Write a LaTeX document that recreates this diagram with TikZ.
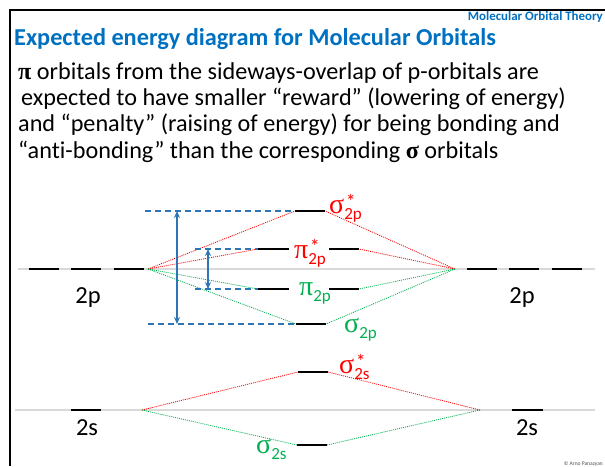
\documentclass[tikz,border=0pt]{standalone}
\usepackage{fontspec}
\setmainfont{Carlito}[Ligatures=NoCommon]
\newfontfamily\greekfont{Liberation Serif}
\usetikzlibrary{arrows.meta}
\definecolor{titleblue}{RGB}{0,112,192}
\definecolor{gapblue}{RGB}{46,117,182}
\definecolor{bondgreen}{RGB}{0,176,80}
\definecolor{antired}{RGB}{255,0,0}
% orbital symbol: letter, star, subscript
\newcommand\orb[3]{{\greekfont\fontsize{28}{30}\selectfont #1}\rlap{\hspace{1.5pt}\raisebox{4.5pt}{\fontsize{20}{20}\selectfont #2}}\raisebox{-6pt}{\fontsize{17}{17}\selectfont #3}}
\tikzset{
	orbline/.style = {line width=1.8pt, black},
	refline/.style = {line width=1.2pt, black!15},
	antiline/.style = {antired, line width=0.8pt, dash pattern=on 1pt off 1pt},
	bondline/.style = {bondgreen, line width=0.8pt, dash pattern=on 1pt off 1pt},
	gapline/.style = {gapblue, line width=1.2pt, dash pattern=on 6pt off 4pt},
	gaparrow/.style = {gapblue, line width=1.4pt, {Stealth[length=7pt,width=6pt]}-{Stealth[length=7pt,width=6pt]}},
	bodytext/.style = {anchor=base west, inner sep=0pt, font=\fontsize{24.2}{29}\selectfont},
	orblabel/.style = {inner sep=0pt, font=\fontsize{24.5}{29}\selectfont},
	molabel/.style = {anchor=base west, inner sep=0pt}
}
\begin{document}
\begin{tikzpicture}[x=1pt,y=-1pt]
	\useasboundingbox (0,0) rectangle (605,466);
	\def\yp{269}                                % 2p atomic level
	\def\ys{410}                                % 2s atomic level

	% frame and headings
	\draw[line width=2pt] (605,10) -- (10,10) -- (10,466);
	\node[anchor=base east, inner sep=0pt, text=titleblue, font=\fontsize{12.9}{15}\selectfont\bfseries] (topic) at (603,20) {Molecular Orbital Theory};
	\node[anchor=base west, inner sep=0pt, text=titleblue, font=\fontsize{24.3}{29}\selectfont\bfseries] (title) at (14,45) {Expected energy diagram for Molecular Orbitals};
	\node[bodytext] (line1) at (18,79) {{\greekfont\bfseries π} orbitals from the sideways-overlap of p-orbitals are};
	\node[bodytext] (line2) at (21,105) {expected to have smaller “reward” (lowering of energy)};
	\node[bodytext] (line3) at (18,131.5) {and “penalty” (raising of energy) for being bonding and};
	\node[bodytext] (line4) at (18,158) {“anti-bonding” than the corresponding {\greekfont\bfseries σ} orbitals};

	% reference lines through the atomic levels
	\draw[refline] (18,\yp) -- (595,\yp);
	\draw[refline] (15,\ys) -- (595,\ys);

	% atomic 2p and 2s levels
	\foreach \x in {29,71,114}{
		\draw[orbline] (\x,\yp) -- ++(30,0);
	}
	\foreach \x in {467,509,552}{
		\draw[orbline] (\x,\yp) -- ++(30,0);
	}
	\draw[orbline] (71,\ys) -- (101,\ys);
	\draw[orbline] (512,\ys) -- (543,\ys);
	\node[orblabel] (p2L) at (88,298) {2p};
	\node[orblabel] (p2R) at (522,298) {2p};
	\node[orblabel] (s2L) at (87,428) {2s};
	\node[orblabel] (s2R) at (527,428) {2s};

	\coordinate (Lp) at (148,\yp);
	\coordinate (Rp) at (455,\yp);
	\coordinate (Ls) at (142,\ys);
	\coordinate (Rs) at (480,\ys);

	% molecular levels
	\coordinate (sgpsL) at (295,211);  \coordinate (sgpsR) at (325,211);
	\coordinate (pipsL) at (258,249);  \coordinate (pipsR) at (359,249);
	\coordinate (pipL)  at (258,289);  \coordinate (pipR)  at (359,289);
	\coordinate (sgpL)  at (296,324);  \coordinate (sgpR)  at (326,324);
	\coordinate (sgssL) at (298,372);  \coordinate (sgssR) at (328,372);
	\coordinate (sgsL)  at (297,445);  \coordinate (sgsR)  at (327,445);
	\draw[orbline] (sgpsL) -- (sgpsR);
	\draw[orbline] (pipsL) -- ++(31,0);
	\draw[orbline] (pipsR) -- ++(-30,0);
	\draw[orbline] (pipL) -- ++(31,0);
	\draw[orbline] (pipR) -- ++(-30,0);
	\draw[orbline] (sgpL) -- (sgpR);
	\draw[orbline] (sgssL) -- (sgssR);
	\draw[orbline] (sgsL) -- (sgsR);

	\node[molabel, text=antired]   (sgpsT) at (329,213) {\orb{σ}{*}{2p}};
	\node[molabel, text=antired]   (pipsT) at (294,258) {\orb{π}{*}{2p}};
	\node[molabel, text=bondgreen] (pipT)  at (299,295) {\orb{π}{}{2p}};
	\node[molabel, text=bondgreen] (sgpT)  at (344,332) {\orb{σ}{}{2p}};
	\node[molabel, text=antired]   (sgssT) at (339,373) {\orb{σ}{*}{2s}};
	\node[molabel, text=bondgreen] (sgsT)  at (256,453) {\orb{σ}{}{2s}};

	% correlation lines
	\draw[antiline] (Lp) -- (sgpsL);
	\draw[antiline] (Lp) -- (pipsL);
	\draw[bondline] (Lp) -- (pipL);
	\draw[bondline] (Lp) -- (sgpL);
	\draw[antiline] (Rp) -- (sgpsR);
	\draw[antiline] (Rp) -- (pipsR);
	\draw[bondline] (Rp) -- (pipR);
	\draw[bondline] (Rp) -- (sgpR);
	\draw[antiline] (Ls) -- (sgssL);
	\draw[bondline] (Ls) -- (sgsL);
	\draw[antiline] (Rs) -- (sgssR);
	\draw[bondline] (Rs) -- (sgsR);

	% splitting of sigma and pi levels
	\coordinate (gapA) at (145,211);
	\coordinate (gapB) at (195,249);
	\coordinate (gapC) at (195,289);
	\coordinate (gapD) at (148,324);
	\draw[gapline] (gapA) -- (sgpsL);
	\draw[gapline] (gapB) -- (pipsL);
	\draw[gapline] (gapC) -- (pipL);
	\draw[gapline] (gapD) -- (sgpL);
	\draw[gaparrow] (177,211) -- (177,324);
	\draw[gaparrow] (208,249) -- (208,289);

	\node[anchor=base east, inner sep=0pt, font=\fontsize{5.5}{6}\selectfont, text=black!70] (credit) at (603,465) {© Arno Panazyan};
\end{tikzpicture}
\end{document}
